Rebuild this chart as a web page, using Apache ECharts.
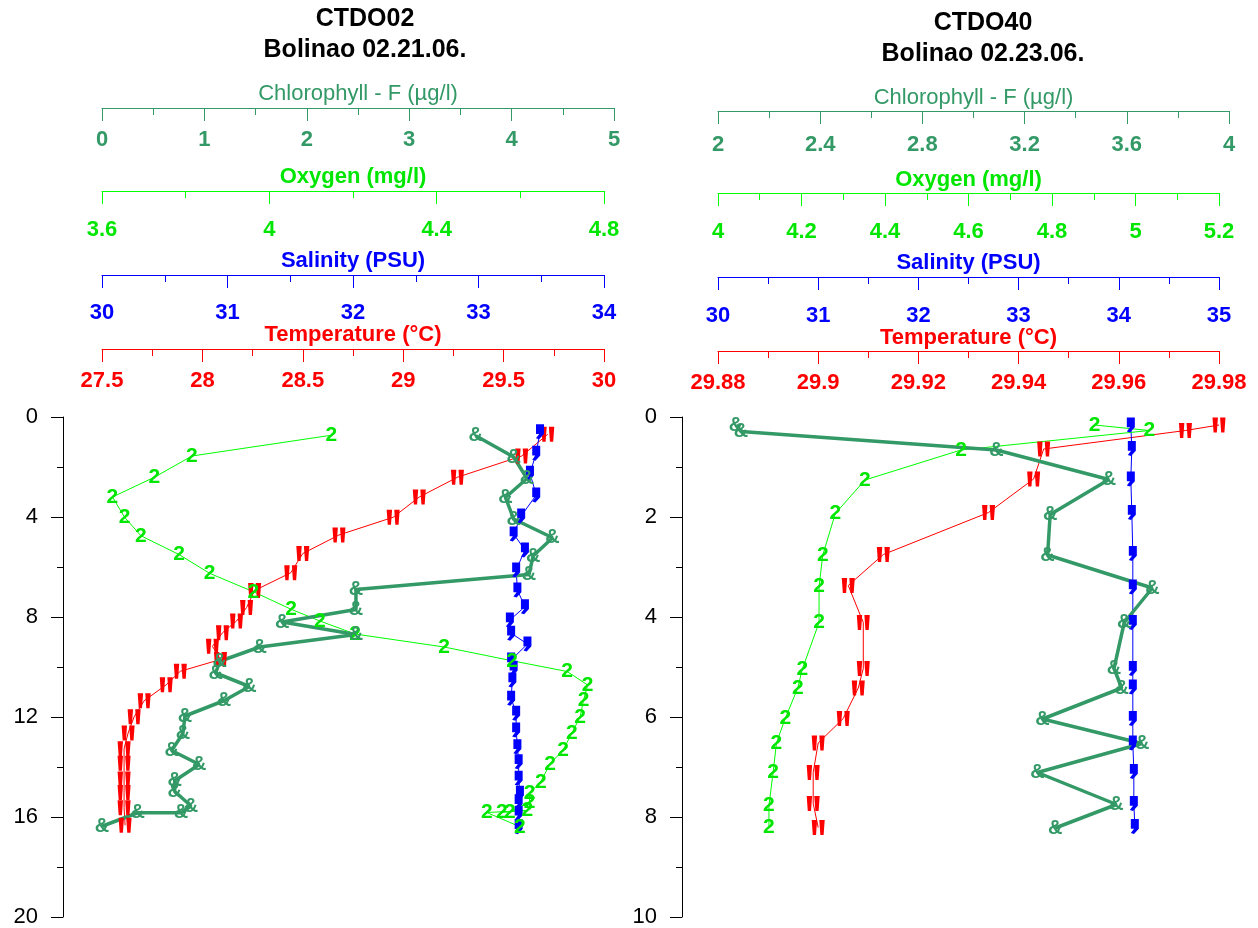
<!DOCTYPE html>
<html><head><meta charset="utf-8">
<script src="https://cdn.jsdelivr.net/npm/echarts/dist/echarts.min.js"></script>
<style>html,body{margin:0;padding:0;background:#fff}#c{width:1258px;height:928px}</style>
</head><body><div id="c"></div>
<script>
// ---------- Left profile: CTDO02 Bolinao 02.21.06. ----------
var tempDepthL = [0.69,1.56,2.41,3.2,4.01,4.72,5.46,6.23,6.94,7.62,8.16,8.63,9.17,9.7,10.17,10.71,11.35,11.99,12.64,13.27,13.85,14.48,15.02,15.63,16.33];
var tempL      = [29.72,29.59,29.27,29.08,28.95,28.68,28.50,28.44,28.26,28.22,28.17,28.10,28.05,28.09,27.89,27.82,27.71,27.66,27.63,27.61,27.61,27.61,27.61,27.61,27.615];
var salDepthL  = [0.59,1.45,2.25,3.12,3.96,4.68,5.32,6.12,6.92,7.59,8.12,8.65,9.08,9.72,10.05,10.52,11.25,11.85,12.52,13.19,13.79,14.45,15.05,15.39,15.85,16.39];
var salL       = [33.49,33.46,33.41,33.46,33.34,33.28,33.37,33.30,33.31,33.37,33.25,33.26,33.39,33.26,33.28,33.27,33.26,33.30,33.30,33.31,33.32,33.32,33.33,33.32,33.32,33.32];
var oxyDepthL  = [0.73,1.56,2.41,3.2,4.01,4.75,5.5,6.25,6.99,7.69,8.16,8.68,9.2,9.75,10.18,10.72,11.33,11.99,12.65,13.33,13.87,14.59,15.04,15.39,15.8,15.8,15.74,15.82,16.39];
var oxyL       = [4.148,3.815,3.725,3.625,3.654,3.693,3.784,3.857,3.962,4.052,4.121,4.205,4.418,4.58,4.712,4.761,4.751,4.743,4.723,4.702,4.671,4.649,4.622,4.622,4.575,4.556,4.617,4.520,4.599];
var chlDepthL  = [0.75,1.6,2.46,3.22,4.08,4.83,5.56,6.3,6.9,7.7,8.2,8.7,9.2,9.77,10.24,10.78,11.35,11.96,12.66,13.34,13.9,14.55,14.98,15.56,15.83,15.83,16.37];
var chlL       = [3.65,4.02,4.15,3.94,4.02,4.40,4.21,4.17,2.48,2.48,1.76,2.48,1.54,1.15,1.11,1.44,1.19,0.81,0.79,0.68,0.95,0.71,0.71,0.87,0.77,0.35,0.0];

// ---------- Right profile: CTDO40 Bolinao 02.23.06. ----------
var tempDepthR = [0.16,0.27,0.64,1.24,1.91,2.75,3.37,4.11,5.03,5.42,6.03,6.52,7.11,7.73,8.21];
var tempR      = [29.98,29.9733,29.945,29.943,29.934,29.913,29.906,29.909,29.909,29.908,29.905,29.900,29.899,29.899,29.900];
var salDepthR  = [0.16,0.63,1.24,1.91,2.73,3.40,4.11,5.03,5.40,6.03,6.52,7.09,7.73,8.19];
var salR       = [34.12,34.13,34.12,34.13,34.14,34.14,34.14,34.14,34.14,34.14,34.14,34.15,34.15,34.16];
var oxyDepthR  = [0.16,0.27,0.66,1.26,1.93,2.76,3.39,4.11,5.04,5.42,6.03,6.52,7.11,7.77,8.21];
var oxyR       = [4.902,5.033,4.582,4.352,4.281,4.251,4.242,4.242,4.202,4.191,4.161,4.140,4.132,4.122,4.122];
var chlDepthR  = [0.16,0.29,0.66,1.25,1.95,2.76,3.42,4.11,5.03,5.42,6.04,6.53,7.11,7.75,8.22];
var chlR       = [2.07,2.09,3.09,3.53,3.30,3.29,3.70,3.59,3.55,3.58,3.27,3.66,3.25,3.56,3.32];

// ---------- Titles / axis names ----------
var titleL = ['CTDO02', 'Bolinao 02.21.06.'];
var titleR = ['CTDO40', 'Bolinao 02.23.06.'];
var nameChl = 'Chlorophyll - F (µg/l)';
var nameOxy = 'Oxygen (mg/l)';
var nameSal = 'Salinity (PSU)';
var nameTemp = 'Temperature (°C)';

var C_CHL = '#339966', C_OXY = '#00FF00', C_OXYT = '#00E600', C_SAL = '#0000FF', C_TEMP = '#FF0000';
var FONT = 'Liberation Sans, Arial, sans-serif';

function pairs(xs, ds) { return xs.map(function (v, i) { return [v, ds[i]]; }); }

function topAxis(grid, min, max, interval, offset, color, textColor, name, bold, labelMargin, nameGap) {
  return {
    type: 'value', gridIndex: grid, position: 'top', offset: offset,
    min: min, max: max, interval: interval,
    axisLine: { show: true, onZero: false, lineStyle: { color: color, width: 1 } },
    axisTick: { show: true, inside: true, length: 13, lineStyle: { color: color } },
    minorTick: { show: true, splitNumber: 2, length: 7, lineStyle: { color: color } },
    splitLine: { show: false }, minorSplitLine: { show: false },
    axisLabel: { inside: true, margin: labelMargin, color: textColor, fontSize: 22, fontWeight: 'bold', fontFamily: FONT, showMinLabel: true, showMaxLabel: true },
    name: name, nameLocation: 'middle', nameGap: nameGap, nameMoveOverlap: false,
    nameTextStyle: { color: textColor, fontSize: 22, fontWeight: bold ? 'bold' : 'normal', fontFamily: FONT, verticalAlign: 'middle' }
  };
}

function depthAxis(grid, max, offset, visible) {
  return {
    type: 'value', gridIndex: grid, inverse: true, min: 0, max: max, interval: max / 5,
    show: visible, offset: offset, position: 'left',
    axisLine: { show: true, onZero: false, lineStyle: { color: '#000', width: 1 } },
    axisTick: { show: true, length: 12, lineStyle: { color: '#000' } },
    minorTick: { show: true, splitNumber: 2, length: 6, lineStyle: { color: '#000' } },
    splitLine: { show: false }, minorSplitLine: { show: false },
    axisLabel: { margin: 25, color: '#000', fontSize: 22, fontFamily: FONT, showMinLabel: true, showMaxLabel: true }
  };
}

var PATH_TEMP = 'path://M0,0 L5,0 L4,14 L1,14 Z M7,0 L12,0 L11,14 L8,14 Z';
var PATH_SAL = 'path://M1,0 L6,0 L6,9 L3,14 L1,13 L3,9 L1,9 Z';

function symSeries(x, y, data, color, path, size) {
  return {
    type: 'line', xAxisIndex: x, yAxisIndex: y, data: data,
    symbol: path, symbolSize: size, showAllSymbol: true,
    itemStyle: { color: color }, lineStyle: { color: color, width: 1 },
    emphasis: { disabled: true }, silent: true
  };
}
function textSeries(x, y, data, color, textColor, ch, width, fsize) {
  return {
    type: 'line', xAxisIndex: x, yAxisIndex: y, data: data,
    symbol: 'circle', symbolSize: 1, showAllSymbol: true,
    itemStyle: { color: 'rgba(0,0,0,0)' }, lineStyle: { color: color, width: width },
    label: { show: true, position: 'inside', formatter: ch, color: textColor, fontSize: fsize, fontWeight: 'bold', fontFamily: FONT },
    emphasis: { disabled: true }, silent: true
  };
}

var option = {
  animation: false,
  backgroundColor: '#fff',
  grid: [
    { left: 102, top: 417, width: 502, height: 500 },
    { left: 102, top: 417, width: 512, height: 500 },
    { left: 718, top: 417, width: 501, height: 500 },
    { left: 718, top: 417, width: 511, height: 500 }
  ],
  xAxis: [
    topAxis(0, 27.5, 30, 0.5, 68, C_TEMP, C_TEMP, nameTemp, true, 21, 14),
    topAxis(0, 30, 34, 1, 142, C_SAL, C_SAL, nameSal, true, 27, 14),
    topAxis(0, 3.6, 4.8, 0.4, 226, C_OXY, C_OXYT, nameOxy, true, 28, 14),
    topAxis(1, 0, 5, 1, 309, C_CHL, C_CHL, nameChl, false, 21, 14),
    topAxis(2, 29.88, 29.98, 0.02, 66, C_TEMP, C_TEMP, nameTemp, true, 21, 13),
    topAxis(2, 30, 35, 1, 140, C_SAL, C_SAL, nameSal, true, 28, 14),
    topAxis(2, 4, 5.2, 0.2, 224, C_OXY, C_OXYT, nameOxy, true, 28, 13),
    topAxis(3, 2, 4, 0.4, 306, C_CHL, C_CHL, nameChl, false, 23, 13)
  ],
  yAxis: [
    depthAxis(0, 20, 39, true),
    depthAxis(1, 20, 39, false),
    depthAxis(2, 10, 36, true),
    depthAxis(3, 10, 36, false)
  ],
  series: [
    symSeries(0, 0, pairs(tempL, tempDepthL), C_TEMP, PATH_TEMP, [13, 15]),
    symSeries(1, 0, pairs(salL, salDepthL), C_SAL, PATH_SAL, [8, 15]),
    textSeries(2, 0, pairs(oxyL, oxyDepthL), C_OXY, C_OXYT, '2', 1, 21),
    textSeries(3, 1, pairs(chlL, chlDepthL), C_CHL, C_CHL, '&', 3.5, 20),
    symSeries(4, 2, pairs(tempR, tempDepthR), C_TEMP, PATH_TEMP, [13, 15]),
    symSeries(5, 2, pairs(salR, salDepthR), C_SAL, PATH_SAL, [8, 15]),
    textSeries(6, 2, pairs(oxyR, oxyDepthR), C_OXY, C_OXYT, '2', 1, 21),
    textSeries(7, 3, pairs(chlR, chlDepthR), C_CHL, C_CHL, '&', 3.5, 20)
  ]
};

function titleText(x, y, t) {
  return { type: 'text', x: x, y: y, style: { text: t, font: 'bold 25px ' + FONT, fill: '#000', textAlign: 'center', textVerticalAlign: 'middle' } };
}
option.graphic = [
  titleText(365, 19, titleL[0]), titleText(365, 50, titleL[1]),
  titleText(983, 23, titleR[0]), titleText(983, 54, titleR[1])
];

var chart = echarts.init(document.getElementById('c'), null, { renderer: 'canvas' });
chart.setOption(option);
</script>
</body></html>
